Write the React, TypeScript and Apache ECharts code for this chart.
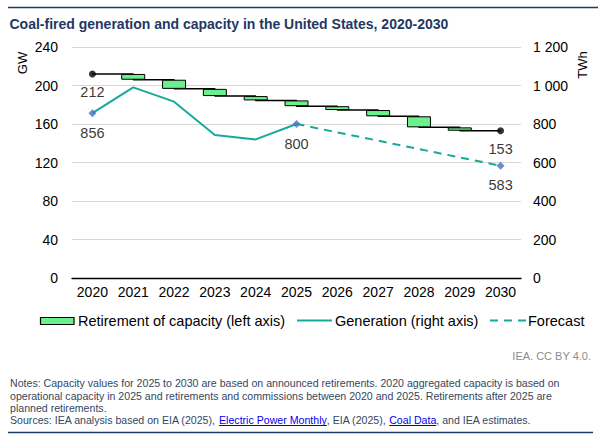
import React, { useEffect, useRef } from "react";
import * as echarts from "echarts";

// Years on the category axis
const years = ["2020", "2021", "2022", "2023", "2024", "2025", "2026", "2027", "2028", "2029", "2030"];
// Operational coal capacity at the end of each year (GW, left axis)
const capacityGW = [212, 206, 196.5, 189, 184.5, 178.5, 174.5, 168, 156.5, 153, 153];
// Coal-fired generation, historical (TWh, right axis), 2020-2025
const generationTWh = [856, 990, 916, 743, 720, 800];
// Forecast points (TWh)
const forecastYears = ["2025", "2030"];
const forecastTWh = [800, 583];
// Axis ranges
const gwAxis = { min: 0, max: 240, interval: 40 };
const twhAxis = { min: 0, max: 1200, interval: 200 };

const FONT = "'Liberation Sans', Arial, Helvetica, sans-serif";
const GREEN = "#6BF08E";
const TEAL = "#17A99A";
const BLUE = "#4472C4";
const NAVY = "#1F3864";
const NOTE = "#33475F";

const notesLines = [
  "Notes: Capacity values for 2025 to 2030 are based on announced retirements. 2020 aggregated capacity is based on",
  "operational capacity in 2025 and retirements and commissions between 2020 and 2025. Retirements after 2025 are",
  "planned retirements.",
];
const sourceParts: { t: string; link?: boolean }[] = [
  { t: "Sources: IEA analysis based on EIA (2025), " },
  { t: "Electric Power Monthly", link: true },
  { t: ", EIA (2025), " },
  { t: "Coal Data", link: true },
  { t: ", and IEA estimates." },
];

function spaced(v: number) {
  return String(v).replace(/\B(?=(\d{3})+(?!\d))/g, " ");
}

export default function App() {
  const ref = useRef<HTMLDivElement>(null);

  useEffect(() => {
    if (!ref.current) return;
    const chart = echarts.init(ref.current, undefined, { renderer: "svg" });

    // retirement boxes: stacked on an invisible base
    const base: (number | string)[] = [];
    const retire: (number | string)[] = [];
    capacityGW.forEach((c, i) => {
      if (i === 0 || capacityGW[i - 1] - c <= 0) {
        base.push("-");
        retire.push("-");
      } else {
        base.push(c);
        retire.push(+(capacityGW[i - 1] - c).toFixed(2));
      }
    });

    const genData = years.map((_, i) => (i < generationTWh.length ? generationTWh[i] : "-"));
    const fcData = years.map((y) => {
      const k = forecastYears.indexOf(y);
      return k >= 0 ? forecastTWh[k] : "-";
    });
    const last = years.length - 1;
    const diamonds = [
      [0, generationTWh[0]],
      ...forecastYears.map((y, k) => [years.indexOf(y), forecastTWh[k]]),
    ];

    // measure text widths for the sources line
    const cv = document.createElement("canvas").getContext("2d")!;
    const noteFont = `10.6px ${FONT}`;
    cv.font = noteFont;
    const srcEls: any[] = [];
    let sx = 10;
    const sy = 420;
    sourceParts.forEach((p) => {
      const w = cv.measureText(p.t).width;
      srcEls.push({
        type: "text",
        x: sx,
        y: sy,
        style: {
          text: p.t,
          fill: p.link ? "#0000EE" : NOTE,
          font: noteFont,
          verticalAlign: "middle",
        },
      });
      if (p.link) {
        srcEls.push({
          type: "line",
          shape: { x1: sx, y1: sy + 5.5, x2: sx + w, y2: sy + 5.5 },
          style: { stroke: "#0000EE", lineWidth: 1 },
        });
      }
      sx += w;
    });

    const legendFont = `14.5px ${FONT}`;

    const option: any = {
      animation: false,
      textStyle: { fontFamily: FONT },
      grid: { left: 72, right: 80, top: 47, bottom: 159, containLabel: false },
      xAxis: {
        type: "category",
        data: years,
        axisTick: { show: false },
        axisLine: { lineStyle: { color: "#000", width: 1.3 } },
        axisLabel: { color: "#000", fontSize: 14, margin: 7, fontFamily: FONT },
      },
      yAxis: [
        {
          type: "value",
          ...gwAxis,
          axisLabel: { color: "#000", fontSize: 14, margin: 14, fontFamily: FONT },
          splitLine: { lineStyle: { color: "#D9D9D9", width: 1 } },
          axisLine: { show: false },
          axisTick: { show: false },
        },
        {
          type: "value",
          ...twhAxis,
          position: "right",
          axisLabel: {
            color: "#000",
            fontSize: 14,
            margin: 12,
            fontFamily: FONT,
            formatter: (v: number) => spaced(v),
          },
          splitLine: { show: false },
          axisLine: { show: false },
          axisTick: { show: false },
        },
      ],
      series: [
        {
          type: "line",
          name: "Capacity",
          data: capacityGW,
          step: "end",
          symbol: "none",
          lineStyle: { color: "#000", width: 1.5 },
          z: 2,
        },
        {
          type: "bar",
          name: "base",
          stack: "cap",
          data: base,
          barWidth: 24,
          itemStyle: { color: "rgba(0,0,0,0)" },
          z: 3,
        },
        {
          type: "bar",
          name: "Retirement of capacity (left axis)",
          stack: "cap",
          data: retire,
          barWidth: 24,
          itemStyle: { color: GREEN, borderColor: "#000", borderWidth: 1 },
          z: 3,
        },
        {
          type: "scatter",
          name: "Capacity ends",
          data: [
            [0, capacityGW[0]],
            [last, capacityGW[last]],
          ],
          symbol: "circle",
          symbolSize: 7,
          itemStyle: { color: "#000" },
          label: {
            show: true,
            position: "bottom",
            distance: 7,
            color: "#000",
            fontSize: 14.5,
            fontFamily: FONT,
            formatter: (p: any) => String(p.value[1]),
          },
          z: 5,
        },
        {
          type: "line",
          name: "Generation (right axis)",
          yAxisIndex: 1,
          data: genData,
          symbol: "none",
          lineStyle: { color: TEAL, width: 2 },
          z: 4,
        },
        {
          type: "line",
          name: "Forecast",
          yAxisIndex: 1,
          data: fcData,
          connectNulls: true,
          symbol: "none",
          lineStyle: { color: TEAL, width: 2, type: [8, 6] },
          z: 4,
        },
        {
          type: "scatter",
          name: "Generation points",
          yAxisIndex: 1,
          data: diamonds,
          symbol: "diamond",
          symbolSize: 8,
          itemStyle: { color: BLUE },
          label: {
            show: true,
            position: "bottom",
            distance: 8,
            color: "#000",
            fontSize: 14.5,
            fontFamily: FONT,
            formatter: (p: any) => String(p.value[1]),
          },
          z: 6,
        },
      ],
      graphic: [
        {
          type: "line",
          shape: { x1: 8, y1: 7.5, x2: 598, y2: 7.5 },
          style: { stroke: NAVY, lineWidth: 1.5 },
        },
        {
          type: "text",
          x: 9.5,
          y: 24,
          style: {
            text: "Coal-fired generation and capacity in the United States, 2020-2030",
            fill: NAVY,
            font: `bold 14px ${FONT}`,
            verticalAlign: "middle",
          },
        },
        {
          type: "text",
          x: 22,
          y: 63,
          rotation: Math.PI / 2,
          style: { text: "GW", fill: "#000", font: `13px ${FONT}`, align: "center", verticalAlign: "middle" },
        },
        {
          type: "text",
          x: 582,
          y: 65,
          rotation: Math.PI / 2,
          style: { text: "TWh", fill: "#000", font: `13px ${FONT}`, align: "center", verticalAlign: "middle" },
        },
        // legend
        {
          type: "rect",
          shape: { x: 40.5, y: 317.5, width: 33.5, height: 7 },
          style: { fill: GREEN, stroke: "#000", lineWidth: 1.2 },
        },
        {
          type: "text",
          x: 78,
          y: 321,
          style: { text: "Retirement of capacity (left axis)", fill: "#000", font: legendFont, verticalAlign: "middle" },
        },
        {
          type: "line",
          shape: { x1: 297, y1: 320.5, x2: 332, y2: 320.5 },
          style: { stroke: TEAL, lineWidth: 2 },
        },
        {
          type: "text",
          x: 335,
          y: 321,
          style: { text: "Generation (right axis)", fill: "#000", font: legendFont, verticalAlign: "middle" },
        },
        {
          type: "line",
          shape: { x1: 490, y1: 320.5, x2: 527, y2: 320.5 },
          style: { stroke: TEAL, lineWidth: 2, lineDash: [8, 6] },
        },
        {
          type: "text",
          x: 528,
          y: 321,
          style: { text: "Forecast", fill: "#000", font: legendFont, verticalAlign: "middle" },
        },
        {
          type: "text",
          x: 591,
          y: 356,
          style: { text: "IEA. CC BY 4.0.", fill: "#8C8C8C", font: `11px ${FONT}`, align: "right", verticalAlign: "middle" },
        },
        ...notesLines.map((t, i) => ({
          type: "text",
          x: 10,
          y: [383.3, 395.6, 407.6][i],
          style: { text: t, fill: NOTE, font: noteFont, verticalAlign: "middle" },
        })),
        ...srcEls,
        {
          type: "line",
          shape: { x1: 8, y1: 432.5, x2: 593, y2: 432.5 },
          style: { stroke: NAVY, lineWidth: 1.5 },
        },
      ],
    };

    chart.setOption(option);
    return () => chart.dispose();
  }, []);

  return (
    <div
      ref={ref}
      style={{ position: "fixed", left: 0, top: 0, width: 601, height: 437, background: "#fff" }}
    />
  );
}
